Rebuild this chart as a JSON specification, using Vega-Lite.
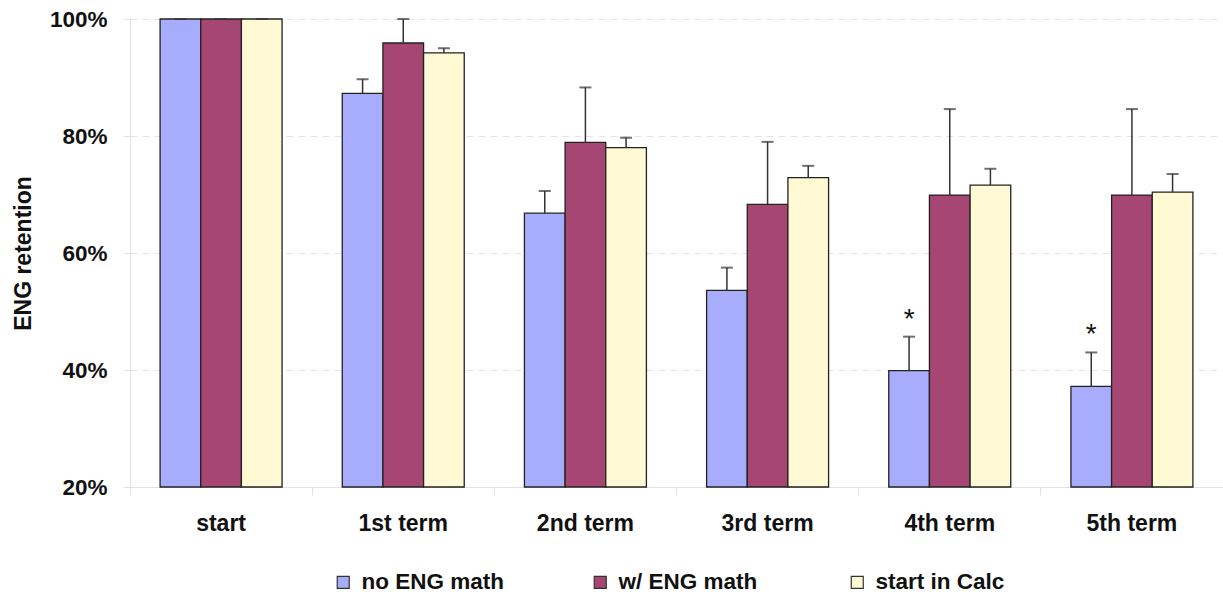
{
  "$schema": "https://vega.github.io/schema/vega-lite/v6.json",
  "autosize": {"type": "none"},
  "width": 1093,
  "height": 468,
  "padding": {"left": 130, "top": 19, "right": 0, "bottom": 107},
  "background": "white",
  "config": {
    "view": {"stroke": null},
    "font": "Liberation Sans",
    "axis": {"labelFont": "Liberation Sans", "titleFont": "Liberation Sans"}
  },
  "data": {
    "values": [
      {"term": "start", "group": "no ENG math", "value": 1.0, "upper": 1.0, "star": ""},
      {"term": "start", "group": "w/ ENG math", "value": 1.0, "upper": 1.0, "star": ""},
      {"term": "start", "group": "start in Calc", "value": 1.0, "upper": 1.0, "star": ""},
      {"term": "1st term", "group": "no ENG math", "value": 0.873, "upper": 0.897, "star": ""},
      {"term": "1st term", "group": "w/ ENG math", "value": 0.959, "upper": 1.0, "star": ""},
      {"term": "1st term", "group": "start in Calc", "value": 0.942, "upper": 0.95, "star": ""},
      {"term": "2nd term", "group": "no ENG math", "value": 0.668, "upper": 0.706, "star": ""},
      {"term": "2nd term", "group": "w/ ENG math", "value": 0.789, "upper": 0.883, "star": ""},
      {"term": "2nd term", "group": "start in Calc", "value": 0.78, "upper": 0.797, "star": ""},
      {"term": "3rd term", "group": "no ENG math", "value": 0.536, "upper": 0.575, "star": ""},
      {"term": "3rd term", "group": "w/ ENG math", "value": 0.683, "upper": 0.79, "star": ""},
      {"term": "3rd term", "group": "start in Calc", "value": 0.729, "upper": 0.749, "star": ""},
      {"term": "4th term", "group": "no ENG math", "value": 0.399, "upper": 0.457, "star": "*"},
      {"term": "4th term", "group": "w/ ENG math", "value": 0.699, "upper": 0.846, "star": ""},
      {"term": "4th term", "group": "start in Calc", "value": 0.716, "upper": 0.744, "star": ""},
      {"term": "5th term", "group": "no ENG math", "value": 0.372, "upper": 0.43, "star": "*"},
      {"term": "5th term", "group": "w/ ENG math", "value": 0.699, "upper": 0.846, "star": ""},
      {"term": "5th term", "group": "start in Calc", "value": 0.704, "upper": 0.735, "star": ""}
    ]
  },
  "encoding": {
    "x": {
      "field": "term",
      "type": "nominal",
      "sort": ["start", "1st term", "2nd term", "3rd term", "4th term", "5th term"],
      "scale": {"paddingInner": 0, "paddingOuter": 0},
      "axis": {
        "title": null,
        "labelAngle": 0,
        "labelFontSize": 23,
        "labelFontWeight": "bold",
        "labelColor": "#111",
        "labelPadding": 17,
        "bandPosition": 0,
        "tickSize": 8,
        "tickColor": "#e2e2e2",
        "domainColor": "#e2e2e2",
        "grid": false
      }
    },
    "xOffset": {
      "field": "group",
      "type": "nominal",
      "sort": ["no ENG math", "w/ ENG math", "start in Calc"],
      "scale": {"paddingInner": 0, "paddingOuter": 0.74}
    }
  },
  "layer": [
    {
      "mark": {"type": "bar", "stroke": "#222", "strokeWidth": 1.3},
      "encoding": {
        "y": {
          "field": "value",
          "type": "quantitative",
          "scale": {"domain": [0.2, 1.0], "zero": false, "nice": false},
          "axis": {
            "values": [0.2, 0.4, 0.6, 0.8, 1.0],
            "format": ".0%",
            "title": "ENG retention",
            "titleFontSize": 23,
            "titleFontWeight": "bold",
            "titleColor": "#111",
            "titleAngle": -90,
            "titleX": -107,
            "titleY": 234,
            "titleAlign": "center",
            "titleBaseline": "middle",
            "labelFontSize": 22.5,
            "labelFontWeight": "bold",
            "labelColor": "#111",
            "labelPadding": 16,
            "tickSize": 7,
            "tickColor": "#e2e2e2",
            "domainColor": "#e2e2e2",
            "grid": true,
            "gridColor": "#e4e4e4",
            "gridDash": [7, 5],
            "gridWidth": 1
          }
        },
        "y2": {"datum": 0.2},
        "color": {
          "field": "group",
          "type": "nominal",
          "sort": ["no ENG math", "w/ ENG math", "start in Calc"],
          "scale": {
            "domain": ["no ENG math", "w/ ENG math", "start in Calc"],
            "range": ["#A7ADFC", "#A64672", "#FFF9D4"]
          },
          "legend": {
            "title": null,
            "orient": "none",
            "legendX": 202,
            "legendY": 552,
            "direction": "horizontal",
            "columns": 3,
            "gridAlign": "all",
            "columnPadding": 84,
            "symbolType": "square",
            "symbolSize": 144,
            "symbolStrokeColor": "#333",
            "symbolStrokeWidth": 1.2,
            "symbolOffset": 0,
            "labelFontSize": 22.5,
            "labelFontWeight": "bold",
            "labelColor": "#111",
            "labelFont": "Liberation Sans",
            "labelOffset": 7
          }
        }
      }
    },
    {
      "mark": {"type": "rule", "color": "#333", "strokeWidth": 1.5},
      "encoding": {
        "y": {"field": "value", "type": "quantitative"},
        "y2": {"field": "upper"}
      }
    },
    {
      "mark": {"type": "tick", "color": "#333", "size": 12, "thickness": 2},
      "encoding": {
        "y": {"field": "upper", "type": "quantitative"}
      }
    },
    {
      "transform": [{"filter": "datum.star != ''"}],
      "mark": {"type": "text", "fontSize": 28, "font": "Liberation Sans", "color": "#111", "baseline": "middle", "dy": -17},
      "encoding": {
        "y": {"field": "upper", "type": "quantitative"},
        "text": {"field": "star"}
      }
    }
  ]
}
